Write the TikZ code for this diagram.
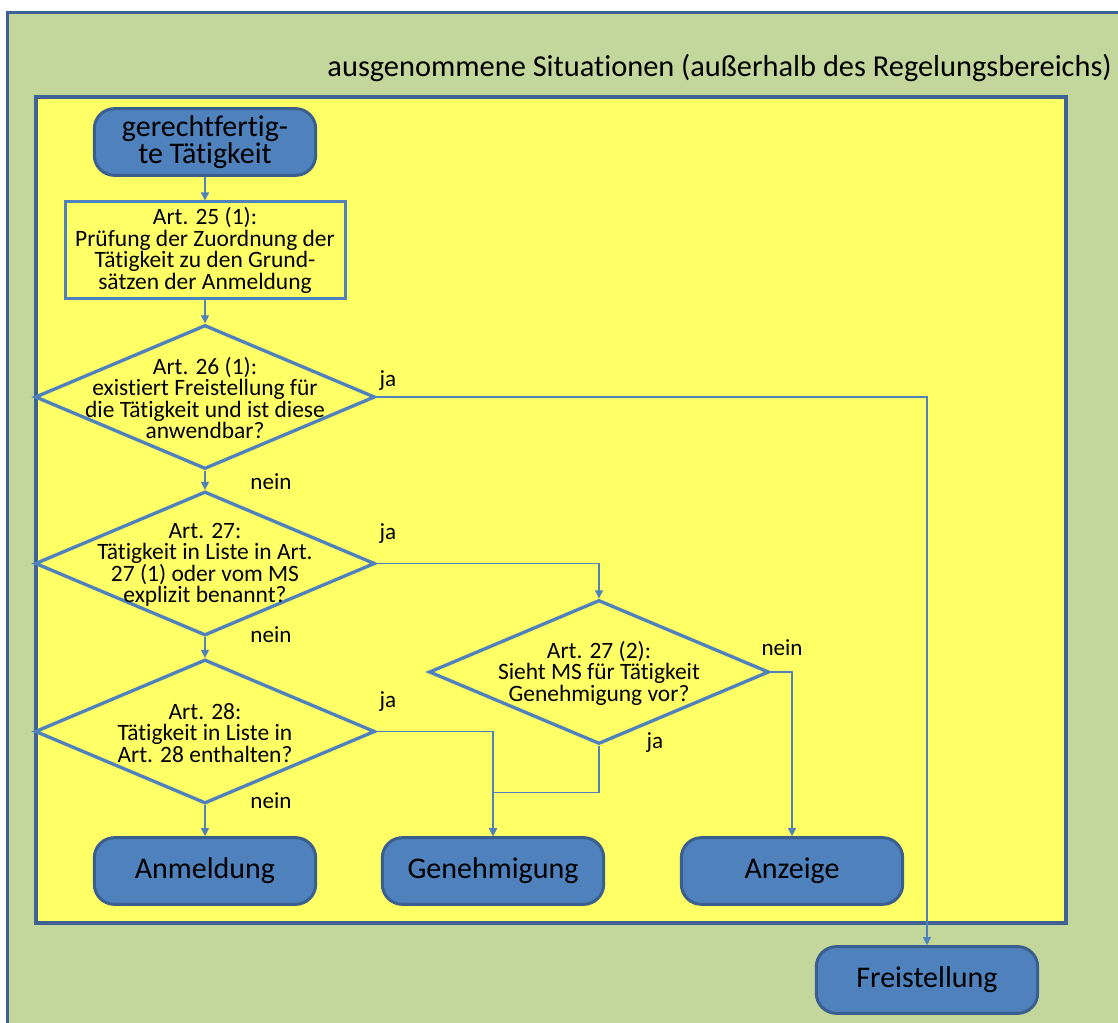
\documentclass[tikz,border=0pt]{standalone}
\usepackage{fontspec}
\setmainfont{Carlito}[Ligatures=NoCommon]
\usetikzlibrary{shapes.geometric,arrows.meta}
\definecolor{outerzone}{HTML}{C3D69B}
\definecolor{innerzone}{HTML}{FFFF66}
\definecolor{nodefill}{HTML}{4F81BD}
\definecolor{nodeline}{HTML}{3A5E8E}
\definecolor{framecol}{HTML}{3E6294}
\begin{document}
\begin{tikzpicture}[x=0.75pt,y=-0.75pt,
  terminal/.style={rectangle, rounded corners=15pt, fill=nodefill, draw=nodeline,
    line width=2.25pt, minimum width=166pt, minimum height=50pt, inner sep=0pt,
    align=center, font=\fontsize{22.5}{18.3}\selectfont},
  procbox/.style={rectangle, fill=innerzone, draw=nodefill, line width=2.25pt,
    minimum width=210pt, minimum height=72.75pt, inner sep=0pt, align=center,
    font=\fontsize{17.6}{16.1}\selectfont},
  decision/.style={diamond, draw=nodefill, line width=2.5pt, minimum width=255pt,
    minimum height=108pt, inner sep=0pt},
  dtext/.style={align=center, font=\fontsize{17.6}{16.1}\selectfont, inner sep=0pt},
  flow/.style={draw=nodefill, line width=1pt, -{Triangle[length=6pt,width=6pt]}},
  answer/.style={font=\fontsize{17.3}{20}\selectfont, anchor=base, inner sep=0pt},
]
% page area
\fill[white] (0,0) rectangle (1118,1023);
\clip (0,0) rectangle (1118,1023);

% outer zone: excluded situations
\draw[fill=outerzone, draw=framecol, line width=2.25pt] (7,13) rectangle (1140,1040);
\node[anchor=base east, inner sep=0pt, font=\fontsize{22.8}{27}\selectfont] (title) at (1112,77)
  {ausgenommene Situationen (außerhalb des Regelungsbereichs)};

% inner zone: regulated area
\draw[fill=innerzone, draw=framecol, line width=3pt] (36,97) rectangle (1066,923);

% nodes
\node[terminal] (start) at (205,142) {gerechtfertig-\\te Tätigkeit};
\node[procbox] (a25) at (205,250.5) {Art. 25 (1):\\Prüfung der Zuordnung der\\Tätigkeit zu den Grund-\\sätzen der Anmeldung};

\node[decision] (d1) at (205,397) {};
\node[dtext] (d1t) at (205,398) {Art. 26 (1):\\existiert Freistellung für\\die Tätigkeit und ist diese\\anwendbar?};

\node[decision] (d2) at (205,563.5) {};
\node[dtext] (d2t) at (205,565) {Art. 27:\\Tätigkeit in Liste in Art.\\27 (1) oder vom MS\\explizit benannt?};

\node[decision] (d4) at (205,731.5) {};
\node[dtext] (d4t) at (205,733) {Art. 28:\\Tätigkeit in Liste in\\Art. 28 enthalten?};

\node[decision] (d3) at (599,672) {};
\node[dtext] (d3t) at (599,673) {Art. 27 (2):\\Sieht MS für Tätigkeit\\Genehmigung vor?};

\node[terminal] (anm) at (205,871) {Anmeldung};
\node[terminal] (gen) at (493,871) {Genehmigung};
\node[terminal] (anz) at (792,871) {Anzeige};
\node[terminal] (frei) at (927,980) {Freistellung};

% connectors
\draw[flow] (start) -- (a25);
\draw[flow] (a25) -- (d1);
\draw[flow] (d1) -- (d2);
\draw[flow] (d2) -- (d4);
\draw[flow] (d4) -- (anm);
\draw[flow] (d1.east) -| (frei.north);
\draw[flow] (d2.east) -| (d3.north);
\draw[flow] (d3.east) -| (anz.north);
\draw[flow] (d4.east) -| (gen.north);
\draw[flow] (d3.south) -- ++(0,47) -| (gen.north);

% answer labels
\node[answer] (l1) at (388,387) {ja};
\node[answer] (l2) at (271,490) {nein};
\node[answer] (l3) at (388,539) {ja};
\node[answer] (l4) at (271,642) {nein};
\node[answer] (l5) at (388,707) {ja};
\node[answer] (l6) at (271,808) {nein};
\node[answer] (l7) at (782,655) {nein};
\node[answer] (l8) at (655,748) {ja};
\end{tikzpicture}
\end{document}
